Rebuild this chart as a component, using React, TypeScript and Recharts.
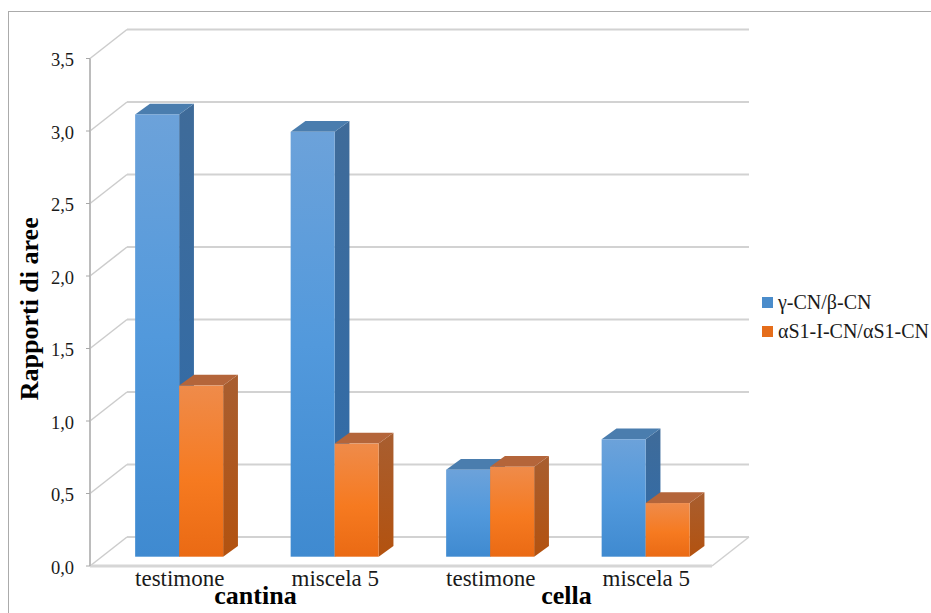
import React from 'react';
import { Bar, BarChart, CartesianGrid, Legend, XAxis, YAxis } from 'recharts';

const samples = ['testimone', 'miscela 5', 'testimone', 'miscela 5'];
const sites = ['cantina', 'cantina', 'cella', 'cella'];
const gammaBeta = [3.05, 2.93, 0.6, 0.81];
const alphaS1 = [1.18, 0.78, 0.62, 0.37];
const yTicks = [0, 0.5, 1, 1.5, 2, 2.5, 3, 3.5];

const GAMMA_NAME = 'γ-CN/β-CN';
const ALPHA_NAME = 'αS1-I-CN/αS1-CN';

const rows = samples.map((sample, i) => ({
  sample,
  site: sites[i],
  gammaBeta: gammaBeta[i],
  alphaS1: alphaS1[i],
}));

const WIDTH = 931;
const HEIGHT = 613;
const MARGIN = { top: 58.5, right: 219, bottom: 0, left: 0 };
const FONT = '"Liberation Serif", "Times New Roman", serif';

// Receding direction of the walls and floor, and of the bars themselves.
const WALL_DX = 37;
const WALL_DY = -29;
const BAR_SHIFT_X = 11.4;
const BAR_SHIFT_Y = -9.3;
const BAR_DEPTH_X = 14.8;
const BAR_DEPTH_Y = -10.8;

const BLUE = { front: 'blueFront', side: 'blueSide', top: '#4a7dae' };
const ORANGE = { front: 'orangeFront', side: 'orangeSide', top: '#b4653a' };

function Prism({ x, y, width, height, palette }: any) {
  const left = x + BAR_SHIFT_X;
  const right = left + width;
  const top = y + BAR_SHIFT_Y;
  const bottom = top + height;
  const dx = BAR_DEPTH_X;
  const dy = BAR_DEPTH_Y;
  return (
    <g>
      <polygon
        points={`${right},${top} ${right + dx},${top + dy} ${right + dx},${bottom + dy} ${right},${bottom}`}
        fill={`url(#${palette.side})`}
      />
      <polygon
        points={`${left},${top} ${left + dx},${top + dy} ${right + dx},${top + dy} ${right},${top}`}
        fill={palette.top}
      />
      <rect x={left} y={top} width={width} height={height} fill={`url(#${palette.front})`} />
    </g>
  );
}

// One gridline: the run along the back wall plus the diagonal across the side wall.
function WallLine(props: any) {
  const { x1, x2, y1 } = props;
  const isFloor = y1 > HEIGHT - 50;
  return (
    <g>
      <line
        x1={x1 + WALL_DX}
        x2={x2 + WALL_DX}
        y1={y1 + WALL_DY}
        y2={y1 + WALL_DY}
        stroke="#d2d2d2"
        strokeWidth={2}
      />
      <line x1={x1} x2={x1 + WALL_DX} y1={y1} y2={y1 + WALL_DY} stroke="#cccccc" strokeWidth={1.5} />
      {isFloor && (
        <line x1={x2} x2={x2 + WALL_DX} y1={y1} y2={y1 + WALL_DY} stroke="#d0d0d0" strokeWidth={1.5} />
      )}
    </g>
  );
}

function LegendList({ payload }: any) {
  return (
    <div style={{ fontFamily: FONT, fontSize: 20, color: '#1a1a1a', whiteSpace: 'nowrap' }}>
      {(payload || []).map((entry: any) => (
        <div key={entry.value} style={{ display: 'flex', alignItems: 'center', height: 29 }}>
          <span
            style={{ width: 11, height: 11, background: entry.color, marginRight: 5, display: 'inline-block' }}
          />
          {entry.value}
        </div>
      ))}
    </div>
  );
}

const Gradient = ({ id, stops }: { id: string; stops: [string, string][] }) => (
  <linearGradient id={id} x1="0" y1="0" x2="0" y2="1">
    {stops.map(([offset, color]) => (
      <stop key={offset} offset={offset} stopColor={color} />
    ))}
  </linearGradient>
);

export default function App() {
  return (
    <div style={{ position: 'absolute', left: 0, top: 0, width: WIDTH, height: HEIGHT, overflow: 'hidden', background: '#fff' }}>
      <div
        style={{
          position: 'absolute',
          left: 8,
          top: 11,
          right: 0,
          bottom: 0,
          borderLeft: '1px solid #ababab',
          borderTop: '1px solid #ababab',
        }}
      />
      <div style={{ position: 'absolute', left: 0, top: 0 }}>
        <BarChart
          width={WIDTH}
          height={HEIGHT}
          data={rows}
          margin={MARGIN}
          barCategoryGap="21.7%"
          barGap={0}
        >
          <defs>
            <Gradient id="blueFront" stops={[['0', '#6ca2da'], ['0.5', '#5299dc'], ['1', '#3f8ad0']]} />
            <Gradient id="blueSide" stops={[['0', '#3f6b99'], ['1', '#2f6cab']]} />
            <Gradient id="orangeFront" stops={[['0', '#ef8b4a'], ['0.55', '#f67a20'], ['1', '#ea6a14']]} />
            <Gradient id="orangeSide" stops={[['0', '#a85e30'], ['1', '#b3520f']]} />
          </defs>
          <CartesianGrid vertical={false} horizontal={(p: any) => <WallLine key={p.key} {...p} />} syncWithTicks />
          <XAxis
            dataKey="sample"
            xAxisId={0}
            height={21}
            interval={0}
            tickLine={false}
            axisLine={{ stroke: '#d6d6d6', strokeWidth: 3 }}
            tick={{ fontFamily: FONT, fontSize: 23, fill: '#1a1a1a', dx: 12, dy: -2 }}
            tickMargin={0}
          />
          <XAxis
            dataKey="site"
            xAxisId="site"
            allowDuplicatedCategory={false}
            height={26}
            interval={0}
            tickLine={false}
            axisLine={false}
            tick={{ fontFamily: FONT, fontSize: 26, fontWeight: 700, fill: '#000', dx: 10, dy: -7 }}
            tickMargin={0}
          />
          <YAxis
            width={90}
            domain={[0, 3.5]}
            ticks={yTicks}
            interval={0}
            tickFormatter={(v: number) => v.toFixed(1).replace('.', ',')}
            tickLine={{ stroke: '#a8a8a8' }}
            tickSize={4}
            tickMargin={12}
            axisLine={{ stroke: '#bcbcbc', strokeWidth: 2 }}
            tick={{ fontFamily: FONT, fontSize: 18.5, fill: '#1a1a1a', dy: 1 }}
            label={{
              value: 'Rapporti di aree',
              angle: -90,
              position: 'insideLeft',
              offset: 0,
              dx: 29,
              dy: 88,
              style: { fontFamily: FONT, fontSize: 26, fontWeight: 700, fill: '#000' },
            }}
          />
          <Legend
            layout="horizontal"
            align="center"
            verticalAlign="middle"
            itemSorter={null}
            wrapperStyle={{ left: 762, top: 288, width: 169, bottom: 'auto', right: 'auto' }}
            content={<LegendList />}
          />
          <Bar
            dataKey="gammaBeta"
            name={GAMMA_NAME}
            fill="#4a8ccb"
            isAnimationActive={false}
            shape={(p: any) => <Prism {...p} palette={BLUE} />}
          />
          <Bar
            dataKey="alphaS1"
            name={ALPHA_NAME}
            fill="#e56d1a"
            isAnimationActive={false}
            shape={(p: any) => <Prism {...p} palette={ORANGE} />}
          />
        </BarChart>
      </div>
    </div>
  );
}
